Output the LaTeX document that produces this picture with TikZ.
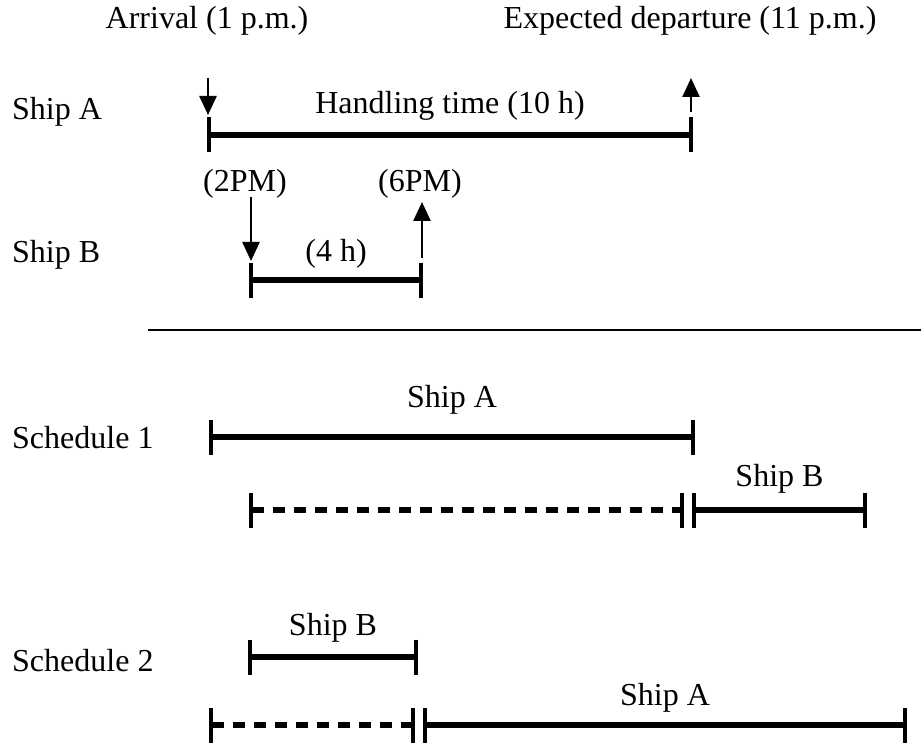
\documentclass[tikz,border=0pt]{standalone}
\usepackage{fontspec}
\setmainfont{Liberation Serif}
\usetikzlibrary{arrows.meta}
\tikzset{
  lbl/.style={font=\fontsize{32}{38}\selectfont, inner sep=0pt},
  span/.style={line width=5.5pt, {Bar[width=35pt,line width=4pt]}-{Bar[width=35pt,line width=4pt]}},
  wait/.style={span, dash pattern=on 12pt off 9pt},
  evt/.style={line width=2.5pt, -{Triangle[length=19pt,width=17pt]}},
}

\begin{document}
\begin{tikzpicture}[x=1pt,y=-1pt]
\useasboundingbox (0,0) rectangle (921,746);
% row labels
\node [lbl, anchor=west] (rowA) at (12,112) {Ship A};
\node [lbl, anchor=west] (rowB) at (12,255) {Ship B};
\node [lbl, anchor=west] (sch1) at (12,438) {Schedule 1};
\node [lbl, anchor=west] (sch2) at (12,661) {Schedule 2};

% ship A, requested window
\node [lbl] (arrA) at (207,21) {Arrival (1 p.m.)};
\node [lbl] (depA) at (690,21) {Expected departure (11 p.m.)};
\coordinate (a0) at (207,135);
\coordinate (a1) at (693,135);
\draw [span] (a0) -- (a1) node [lbl, midway, above=12pt] (hA) {Handling time (10 h)};
\coordinate (inA) at (208,78);
\coordinate (inAtip) at (208,115);
\coordinate (outA) at (691,112);
\coordinate (outAtip) at (691,78);
\draw [evt] (inA) -- (inAtip);
\draw [evt] (outA) -- (outAtip);

% ship B, requested window
\node [lbl] (arrB) at (245,184) {(2PM)};
\node [lbl] (depB) at (420,184) {(6PM)};
\coordinate (b0) at (249,280);
\coordinate (b1) at (423,280);
\draw [span] (b0) -- (b1) node [lbl, midway, above=9pt] (hB) {(4 h)};
\coordinate (inB) at (251,197);
\coordinate (inBtip) at (251,261);
\coordinate (outB) at (422,258);
\coordinate (outBtip) at (422,202);
\draw [evt] (inB) -- (inBtip);
\draw [evt] (outB) -- (outBtip);

\coordinate (s0) at (148,330);
\coordinate (s1) at (921,330);
\draw [line width=1.2pt] (s0) -- (s1);

% schedule 1: A first, B waits
\coordinate (p0) at (209,437);
\coordinate (p1) at (695,437);
\draw [span] (p0) -- (p1) node [lbl, midway, above=20pt] (p) {Ship A};
\coordinate (q0) at (249,510);
\coordinate (q1) at (684,510);
\coordinate (q2) at (692,510);
\coordinate (q3) at (867,510);
\draw [wait] (q0) -- (q1);
\draw [span] (q2) -- (q3) node [lbl, midway, above=14pt] (q) {Ship B};

% schedule 2: B first, A waits
\coordinate (r0) at (248,657);
\coordinate (r1) at (418,657);
\draw [span] (r0) -- (r1) node [lbl, midway, above=12pt] (r) {Ship B};
\coordinate (t0) at (209,725);
\coordinate (t1) at (415,725);
\coordinate (t2) at (423,725);
\coordinate (t3) at (907,725);
\draw [wait] (t0) -- (t1);
\draw [span] (t2) -- (t3) node [lbl, midway, above=10pt] (t) {Ship A};
\end{tikzpicture}
\end{document}
